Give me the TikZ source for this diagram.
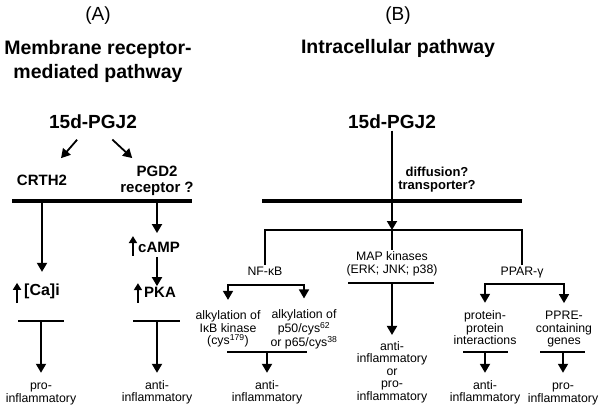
\documentclass[tikz,border=0pt]{standalone}
\usepackage{fontspec}
\setmainfont{Liberation Sans}
\usetikzlibrary{arrows.meta}
\tikzset{
  pnl/.style={font=\fontsize{19}{23}\selectfont},
  ttl/.style={font=\fontsize{19.5}{24}\selectfont\bfseries,align=center},
  big/.style={font=\fontsize{19}{23}\selectfont\bfseries},
  lbl/.style={font=\fontsize{15}{16}\selectfont\bfseries,align=center},
  sml/.style={font=\fontsize{13}{13}\selectfont\bfseries,align=center},
  txt/.style={font=\fontsize{12.3}{12.5}\selectfont,align=center},
  arr/.style={line width=1.8pt,-{Triangle[width=10pt,length=9pt]}},
  arrs/.style={line width=1.6pt,{Triangle[width=10pt,length=9pt]}-{Triangle[width=10pt,length=9pt]}},
  uarr/.style={line width=1.8pt,-{Triangle[width=8pt,length=7pt]}},
  ln/.style={line width=1.5pt},
  bar/.style={line width=3.5pt}
}
\begin{document}
\begin{tikzpicture}[x=1pt,y=-1pt,inner sep=2pt]
\useasboundingbox (0,0) rectangle (602,408);
% (A) membrane receptor
\node[pnl] (panA) at (98,16) {(A)};
\node[ttl] (ttlA) at (98,61) {Membrane receptor-\\mediated pathway};
\node[big] (srcA) at (93,121.5) {15d-PGJ2};
\node[lbl] (crth) at (42,180) {CRTH2};
\node[lbl] (pgd) at (157,181.2) {PGD2\\receptor ?};
\draw[arr,shorten <=12pt,shorten >=19pt] (srcA) -- (crth);
\draw[arr,shorten <=13pt,shorten >=9pt] (srcA) -- (pgd);
\draw[bar] (12,201) -- (192,201);
\coordinate (memA1) at (42,201);
\coordinate (memA2) at (157,201);
\node[lbl,font=\fontsize{16}{16}\selectfont\bfseries] (ca) at (42,291) {[Ca]i};
\node[lbl] (camp) at (159,247) {cAMP};
\node[lbl] (pka) at (160,292) {PKA};
\draw[arr,shorten >=9.5pt] (memA1) -- (ca);
\draw[uarr] ([xshift=-5pt,yshift=-2.5pt]ca.south west) -- ([xshift=-5pt,yshift=-1.5pt]ca.north west);
\draw[arr,shorten >=6.5pt] (memA2) -- (memA2 |- camp.north);
\draw[uarr] ([xshift=-3pt,yshift=-1.5pt]camp.south west) -- ([xshift=-3pt,yshift=3.5pt]camp.north west);
\draw[arr,shorten <=2.5pt,shorten >=-1.5pt] (memA2 |- camp.south) -- (memA2 |- pka.north);
\draw[uarr] ([xshift=-4pt,yshift=-3.5pt]pka.south west) -- ([xshift=-4pt,yshift=1.5pt]pka.north west);
\coordinate (teeA1) at (41,321);
\coordinate (teeA2) at (157,321);
\draw[ln] ([xshift=-23pt]teeA1) -- ([xshift=23pt]teeA1);
\draw[ln] ([xshift=-24pt]teeA2) -- ([xshift=23pt]teeA2);
\node[txt] (outA1) at (41,393.8) {pro-\\inflammatory};
\node[txt] (outA2) at (157,392.5) {anti-\\inflammatory};
\draw[arr,shorten >=8pt] (teeA1) -- (outA1);
\draw[arr,shorten >=5.5pt] (teeA2) -- (outA2);
% (B) intracellular
\node[pnl] (panB) at (398,16) {(B)};
\node[ttl] (ttlB) at (398,48.5) {Intracellular pathway};
\node[big] (srcB) at (392,121.5) {15d-PGJ2};
\node[sml] (via) at (437,180) {diffusion?\\transporter?};
\draw[bar] (262,201) -- (522,201);
\coordinate (split) at (392,230);
\draw[arr] (srcB) -- (split);
\node[txt] (nfkb) at (265,271) {NF-κB};
\node[txt] (map) at (392,263.8) {MAP kinases\\(ERK; JNK; p38)};
\node[txt] (ppar) at (522,273) {PPAR-γ};
\draw[ln] (nfkb) |- (split) -| (ppar);
\draw[ln] (split) -- (map);
\coordinate (nfsplit) at (267,285);
\node[txt] (ikk) at (228,329.3) {alkylation of\\IκB kinase\\(cys\textsuperscript{179})};
\node[txt] (p50) at (304,329.3) {alkylation of\\p50/cys\textsuperscript{62}\\or p65/cys\textsuperscript{38}};
\draw[arrs,shorten <=9pt,shorten >=9pt] (ikk) |- (nfsplit) -| (p50);
\coordinate (nfjoin) at (267,352);
\draw[ln] ([xshift=-40pt]nfjoin) -- ([xshift=40pt]nfjoin);
\node[txt] (outB1) at (267,392.5) {anti-\\inflammatory};
\draw[arr,shorten >=5.5pt] (nfjoin) -- (outB1);
\coordinate (mapjoin) at (392,283);
\draw[ln] ([xshift=-44pt]mapjoin) -- ([xshift=42pt]mapjoin);
\node[txt] (mapout) at (392,371.9) {anti-\\inflammatory\\or\\pro-\\inflammatory};
\draw[arr,shorten >=4pt] (mapjoin) -- (mapout);
\coordinate (ppsplit) at (524,284);
\node[txt] (prot) at (485,328) {protein-\\protein\\interactions};
\node[txt] (ppre) at (564,329.3) {PPRE-\\containing\\genes};
\draw[arrs,shorten <=6pt,shorten >=6pt] (prot) |- (ppsplit) -| (ppre);
\coordinate (ppjoinL) at (485,352);
\coordinate (ppjoinR) at (563,352);
\draw[ln] ([xshift=-22pt]ppjoinL) -- ([xshift=23pt]ppjoinL);
\draw[ln] ([xshift=-23pt]ppjoinR) -- ([xshift=22pt]ppjoinR);
\node[txt] (outB3) at (485,392.5) {anti-\\inflammatory};
\node[txt] (outB4) at (563,393.8) {pro-\\inflammatory};
\draw[arr,shorten >=5.5pt] (ppjoinL) -- (outB3);
\draw[arr,shorten >=8pt] (ppjoinR) -- (outB4);
\end{tikzpicture}
\end{document}
